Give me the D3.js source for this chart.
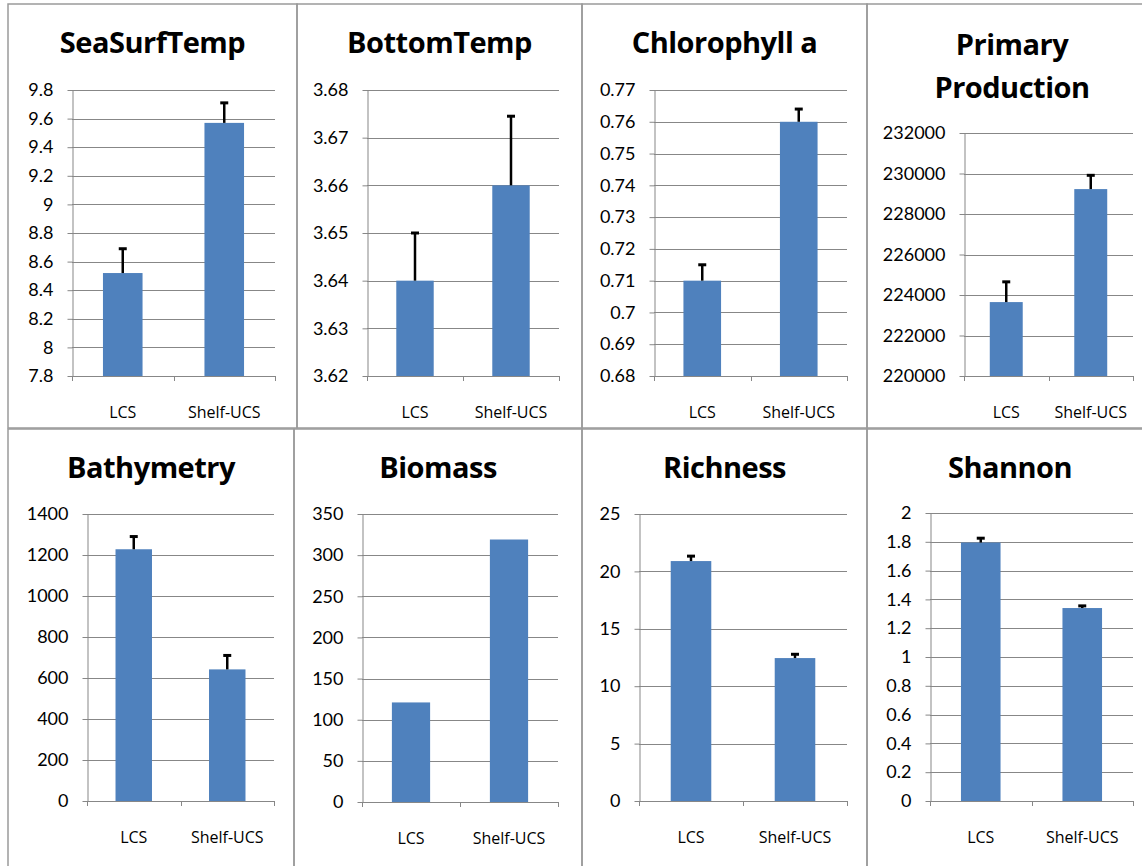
<!DOCTYPE html>
<html>
<head>
<meta charset="utf-8">
<script src="https://cdn.jsdelivr.net/npm/d3@7"></script>
<style>
  body { margin: 0; background: #fff; }
  svg { display: block; }
</style>
</head>
<body>
<svg id="chart" width="1142" height="866"></svg>
<script>
// data
var titles = [["SeaSurfTemp"], ["BottomTemp"], ["Chlorophyll a"], ["Primary", "Production"],
              ["Bathymetry"], ["Biomass"], ["Richness"], ["Shannon"]]
var categories = ["LCS", "Shelf-UCS"]
var means  = [[8.52, 9.57], [3.64, 3.66], [0.71, 0.76], [223650, 229230],
              [1228, 642], [121, 319], [20.9, 12.45], [1.795, 1.34]]
var errors = [[0.17, 0.14], [0.01, 0.0145], [0.005, 0.004], [1000, 680],
              [62, 68], [0, 0], [0.43, 0.33], [0.03, 0.015]]
var yDomains = [[7.8, 9.8], [3.62, 3.68], [0.68, 0.77], [220000, 232000],
                [0, 1400], [0, 350], [0, 25], [0, 2]]
var yTickSteps = [0.2, 0.01, 0.01, 2000, 200, 50, 5, 0.2]

// layout of each panel: border box and plot area
var panels = [
  {box: [8, 4, 297, 428],     plot: [72, 275, 90, 376],   titleY: [53]},
  {box: [297, 4, 582, 428],   plot: [367, 559, 90, 376],  titleY: [53]},
  {box: [582, 4, 867, 428],   plot: [654, 847, 90, 376],  titleY: [53]},
  {box: [867, 4, 1157, 428],  plot: [964, 1133, 133, 376], titleY: [55, 98]},
  {box: [8, 429, 294, 880],   plot: [87, 274, 514, 801],  titleY: [478]},
  {box: [294, 429, 582, 880], plot: [362, 558, 514, 802], titleY: [478]},
  {box: [582, 429, 867, 880], plot: [639, 847, 514, 801], titleY: [478]},
  {box: [867, 429, 1153, 880], plot: [930, 1133, 513, 801], titleY: [478]}
]

var titleFont = "'Open Sans', sans-serif"
var labelFont = "'Open Sans', sans-serif"
var tickFont = "Lato, sans-serif"
var barColor = "#4f81bd"
var gridColor = "#878787"

var svg = d3.select("#chart")

function fmt(d) { return String(+d.toFixed(6)) }

panels.forEach(function(p, i) {
  var g = svg.append("g").attr("class", "panel")

  g.append("rect")
   .attr("x", p.box[0]).attr("y", p.box[1])
   .attr("width", p.box[2] - p.box[0]).attr("height", p.box[3] - p.box[1])
   .attr("fill", "none").attr("stroke", "#9a9a9a").attr("stroke-width", 1.5)

  var cx = (p.box[0] + p.box[2]) / 2
  titles[i].forEach(function(t, k) {
    g.append("text")
     .attr("x", cx).attr("y", p.titleY[k])
     .attr("text-anchor", "middle")
     .style("font-family", titleFont).style("font-weight", "bold").style("font-size", "29px")
     .style("letter-spacing", "-0.5px")
     .text(t)
  })

  var x = d3.scaleBand().domain(categories).range([p.plot[0], p.plot[1]])
  var y = d3.scaleLinear().domain(yDomains[i]).range([p.plot[3], p.plot[2]])

  var n = Math.round((yDomains[i][1] - yDomains[i][0]) / yTickSteps[i])
  var ticks = d3.range(n + 1).map(function(k) { return yDomains[i][0] + k * yTickSteps[i] })

  // gridlines
  g.selectAll(".grid").data(ticks).enter().append("line")
   .attr("x1", p.plot[0]).attr("x2", p.plot[1])
   .attr("y1", function(d) { return Math.round(y(d)) + 0.5 })
   .attr("y2", function(d) { return Math.round(y(d)) + 0.5 })
   .attr("stroke", gridColor).attr("stroke-width", 1)

  // bars
  g.selectAll(".bar").data(categories).enter().append("rect")
   .attr("x", function(d) { return x(d) + x.bandwidth() * 0.305 })
   .attr("width", x.bandwidth() * 0.39)
   .attr("y", function(d, j) { return y(means[i][j]) })
   .attr("height", function(d, j) { return y(yDomains[i][0]) - y(means[i][j]) })
   .attr("fill", barColor)

  // error bars (upper only)
  categories.forEach(function(c, j) {
    if (!errors[i][j]) return
    var ex = x(c) + x.bandwidth() / 2
    g.append("line")
     .attr("x1", ex).attr("x2", ex)
     .attr("y1", y(means[i][j])).attr("y2", y(means[i][j] + errors[i][j]))
     .attr("stroke", "#000").attr("stroke-width", 2.5)
    g.append("line")
     .attr("x1", ex - 4).attr("x2", ex + 4)
     .attr("y1", y(means[i][j] + errors[i][j])).attr("y2", y(means[i][j] + errors[i][j]))
     .attr("stroke", "#000").attr("stroke-width", 3)
  })

  // y axis
  var yAxis = d3.axisLeft(y).tickValues(ticks).tickFormat(fmt).tickSizeInner(5).tickSizeOuter(0).tickPadding(14)
  var ya = g.append("g").attr("transform", "translate(" + (p.plot[0] + 0.5) + ",0)").call(yAxis)
  ya.select(".domain").attr("stroke", gridColor)
  ya.selectAll(".tick line").attr("stroke", gridColor)
  ya.selectAll("text").style("font-family", tickFont).style("font-size", "18px").attr("fill", "#000")

  // x axis: baseline with ticks at category boundaries
  var xEdges = [p.plot[0], p.plot[0] + x.bandwidth(), p.plot[1]]
  g.append("line")
   .attr("x1", p.plot[0]).attr("x2", p.plot[1])
   .attr("y1", Math.round(p.plot[3]) + 0.5).attr("y2", Math.round(p.plot[3]) + 0.5)
   .attr("stroke", gridColor)
  g.selectAll(".xtick").data(xEdges).enter().append("line")
   .attr("x1", function(d) { return Math.round(d) + 0.5 })
   .attr("x2", function(d) { return Math.round(d) + 0.5 })
   .attr("y1", p.plot[3]).attr("y2", p.plot[3] + 5)
   .attr("stroke", gridColor)

  g.selectAll(".xlabel").data(categories).enter().append("text")
   .attr("x", function(d) { return x(d) + x.bandwidth() / 2 })
   .attr("y", p.plot[3] + 42)
   .attr("text-anchor", "middle")
   .style("font-family", labelFont).style("font-size", "16px")
   .text(function(d) { return d })
})
</script>
</body>
</html>
